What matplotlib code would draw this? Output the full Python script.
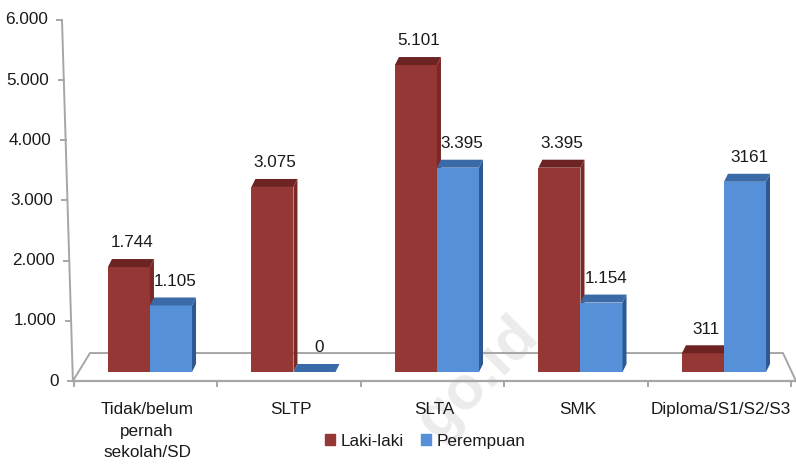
import matplotlib.pyplot as plt
from matplotlib.patches import Polygon, Patch

plt.rcParams['font.family'] = ['Liberation Sans', 'DejaVu Sans']

# data: jumlah penduduk menurut pendidikan dan jenis kelamin
kategori = ['Tidak/belum\npernah\nsekolah/SD', 'SLTP', 'SLTA', 'SMK', 'Diploma/S1/S2/S3']
laki = [1744, 3075, 5101, 3395, 311]
perempuan = [1105, 0, 3395, 1154, 3161]
label_laki = ['1.744', '3.075', '5.101', '3.395', '311']
label_perempuan = ['1.105', '0', '3.395', '1.154', '3161']
yticks = [0, 1000, 2000, 3000, 4000, 5000, 6000]
yticklabels = ['0', '1.000', '2.000', '3.000', '4.000', '5.000', '6.000']

RED = ('#953735', '#6d2322', '#7a2927')
BLUE = ('#5590d8', '#3b6aa8', '#2d5893')
GRID = '#a6a6a6'
TXT = '#1a1a1a'
FS = 12.3

fig = plt.figure(figsize=(7.96, 4.67), dpi=100)
ax = fig.add_axes([0, 0, 1, 1])
ax.set_xlim(-1.045, 4.502)
ax.set_ylim(-1429, 6332)
ax.axis('off')

w = 0.293       # bar width
dx, dy = 0.028, 133   # depth of the 3d faces
base = 150      # bars stand a bit inside the floor
floor_d = 465


def bar3d(x0, v, colors):
    front, top, side = colors
    y1 = base + v
    ax.bar(x0, v, width=w, bottom=base, align='edge', color=front, lw=0, zorder=3)
    ax.add_patch(Polygon([(x0 + w, base), (x0 + w + dx, base + dy),
                          (x0 + w + dx, y1 + dy), (x0 + w, y1)],
                         closed=True, fc=side, lw=0, zorder=3))
    ax.add_patch(Polygon([(x0, y1), (x0 + dx, y1 + dy),
                          (x0 + w + dx, y1 + dy), (x0 + w, y1)],
                         closed=True, fc=top, lw=0, zorder=3))


# floor of the 3d plot area
xl0, xl1 = -0.537, -0.418
xr1, xr0 = 4.411, 4.502
ax.plot([xl0, xl1, xr1, xr0], [0, floor_d, floor_d, 0], color=GRID, lw=1.4, zorder=1)
ax.plot([xl0, xr0], [0, 0], color=GRID, lw=1.6, zorder=4)
for k in range(6):
    xb = k - 0.53
    ax.plot([xb, xb], [0, -85], color=GRID, lw=1.4, zorder=4)

# slanted value axis
ya0, ya1 = -0.537, -0.613
ax.plot([ya0, ya1], [0, 6000], color=GRID, lw=1.4, zorder=4)
for t, lab in zip(yticks, yticklabels):
    xa = ya0 + (ya1 - ya0) * t / 6000
    ax.plot([xa - 0.035, xa], [t, t], color=GRID, lw=1.4, zorder=4)
    ax.text(xa - 0.1, t, lab, ha='right', va='center', fontsize=FS, color=TXT)

# faint watermark behind the bars
ax.text(0.6, 0.19, 'go.id', transform=ax.transAxes, rotation=45,
        ha='center', va='center', fontsize=44, fontweight='bold',
        color='#ebebeb', zorder=0.5)

for i in range(len(kategori)):
    bar3d(i - w, laki[i], RED)
    bar3d(i, perempuan[i], BLUE)
    ax.annotate(label_laki[i], (i - w / 2, base + laki[i]), xytext=(2, 12),
                textcoords='offset points', ha='center', va='bottom',
                fontsize=FS, color=TXT, zorder=5)
    ax.annotate(label_perempuan[i], (i + w / 2, base + perempuan[i]), xytext=(3, 12),
                textcoords='offset points', ha='center', va='bottom',
                fontsize=FS, color=TXT, zorder=5)
    ax.text(i - 0.02, -350, kategori[i], ha='center', va='top', fontsize=FS,
            color=TXT, linespacing=1.55)

handles = [Patch(color=RED[0], label='Laki-laki'), Patch(color=BLUE[0], label='Perempuan')]
fig.legend(handles=handles, loc='center', bbox_to_anchor=(0.534, 0.055), ncol=2,
           frameon=False, fontsize=FS, handlelength=0.6, handleheight=0.6,
           handletextpad=0.3, columnspacing=1.0, labelcolor=TXT)

fig.savefig('out.png', dpi=100)
